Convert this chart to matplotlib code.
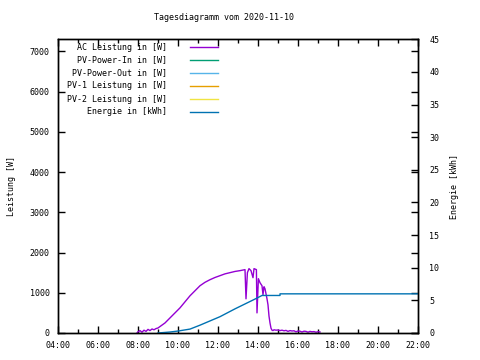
import matplotlib
matplotlib.use("Agg")
import matplotlib.pyplot as plt
from matplotlib.ticker import MultipleLocator, FuncFormatter
from matplotlib.lines import Line2D

# AC power (W) over the day, time in hours
ac_time = [7.95, 8.0, 8.1, 8.2, 8.3, 8.4, 8.5, 8.6, 8.7, 8.8, 8.9,
           9.0, 9.35, 9.6, 9.85, 10.1, 10.35, 10.6, 10.85, 11.1, 11.35,
           11.6, 11.85, 12.1, 12.35, 12.6, 12.85, 13.1, 13.35, 13.4, 13.47,
           13.55, 13.65, 13.75, 13.8, 13.92, 13.95, 14.02, 14.1, 14.2, 14.25,
           14.3, 14.35, 14.45, 14.5, 14.55, 14.6, 14.65, 14.7, 14.75,
           14.8, 14.9, 15.0, 15.1, 15.2, 15.3, 15.4, 15.5, 15.6, 15.7,
           15.8, 15.9, 16.0, 16.1, 16.2, 16.3, 16.4, 16.5, 16.6, 16.7,
           16.8, 16.9, 17.0, 17.1]
ac_power = [0, 30, 60, 20, 70, 40, 90, 60, 100, 80, 110,
            125, 250, 375, 500, 625, 775, 925, 1050, 1175, 1260,
            1325, 1380, 1425, 1470, 1500, 1530, 1550, 1575, 850, 1500,
            1600, 1550, 1375, 1600, 1575, 500, 1350, 1250, 1175, 950,
            1150, 1100, 850, 700, 420, 250, 120, 70, 60,
            80, 70, 75, 60, 70, 55, 65, 40, 60, 50,
            55, 30, 50, 45, 25, 45, 40, 20, 40, 30,
            35, 20, 30, 25]

# daily energy (kWh)
en_time = [9.0, 9.6, 10.0, 10.6, 11.1, 11.6, 12.1, 12.35, 12.85, 13.35,
           13.85, 14.2, 15.1, 15.1, 22.0]
energy = [0, 0.15, 0.3, 0.6, 1.2, 1.85, 2.5, 2.9, 3.7, 4.45,
          5.2, 5.75, 5.75, 6.0, 6.0]

# series without data on this day
pv_in = []
pv_out = []
pv1 = []
pv2 = []

labels = ["AC Leistung in [W]", "PV-Power-In in [W]", "PV-Power-Out in [W]",
          "PV-1 Leistung in [W]", "PV-2 Leistung in [W]", "Energie in [kWh]"]
colors = ["#9400D3", "#009E73", "#56B4E9", "#E69F00", "#F0E442", "#0072B2"]

plt.rcParams["font.family"] = "DejaVu Sans Mono"
plt.rcParams["font.size"] = 6

fig = plt.figure(figsize=(4.8, 3.6), dpi=100)
ax = fig.add_axes([58 / 480, 1 - 333 / 360, 360 / 480, (333 - 39.3) / 360])
ax2 = ax.twinx()

ax.plot(ac_time, ac_power, color=colors[0], lw=1)
ax.plot(pv_in, pv_in, color=colors[1], lw=1)
ax.plot(pv_out, pv_out, color=colors[2], lw=1)
ax.plot(pv1, pv1, color=colors[3], lw=1)
ax.plot(pv2, pv2, color=colors[4], lw=1)
ax2.plot(en_time, energy, color=colors[5], lw=1)

ax.set_xlim(4, 22)
ax.set_ylim(0, 7300)
ax2.set_ylim(0, 45)

ax.xaxis.set_major_locator(MultipleLocator(2))
ax.xaxis.set_minor_locator(MultipleLocator(1))
ax.xaxis.set_major_formatter(FuncFormatter(lambda v, p: "%02d:00" % int(round(v))))
ax.yaxis.set_major_locator(MultipleLocator(1000))
ax2.yaxis.set_major_locator(MultipleLocator(5))

ax.tick_params(which="both", direction="in", top=True, right=True, width=1, pad=6)
ax.tick_params(which="major", length=5)
ax.tick_params(which="minor", length=3)
ax2.tick_params(direction="in", length=5, width=1, pad=8)

for a in (ax, ax2):
    for s in a.spines.values():
        s.set_linewidth(1)

ax.set_ylabel("Leistung [W]", labelpad=10)
ax2.set_ylabel("Energie [kWh]", labelpad=8)
fig.text(224 / 480, 1 - 18 / 360, "Tagesdiagramm vom 2020-11-10",
         ha="center", va="center")

# manual gnuplot-style key
for i, (lab, col) in enumerate(zip(labels, colors)):
    y = 1 - (47 + 13 * i) / 360
    fig.text(167 / 480, y, lab, ha="right", va="center")
    fig.add_artist(Line2D([190 / 480, 218 / 480], [y, y], color=col, lw=1,
                          transform=fig.transFigure))

fig.savefig("out.png", dpi=100)
